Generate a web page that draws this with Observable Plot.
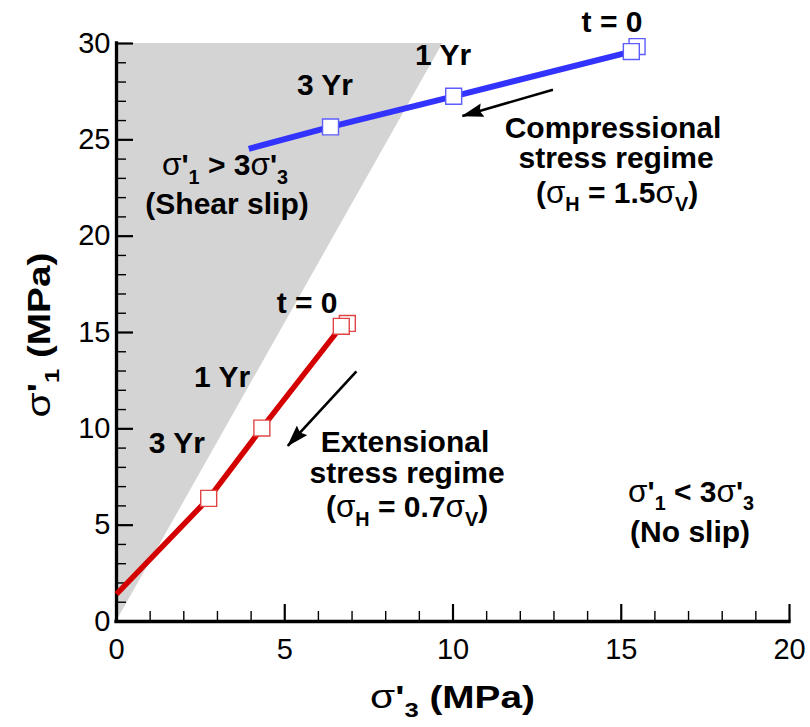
<!DOCTYPE html>
<html>
<head>
<meta charset="utf-8">
<script src="https://cdn.jsdelivr.net/npm/d3@7"></script>
<script src="https://cdn.jsdelivr.net/npm/@observablehq/plot@0.6"></script>
<style>
  body { margin: 0; background: #fff; }
  #chart svg { display: block; }
</style>
</head>
<body>
<div id="chart"></div>
<script>
// ---------- data ----------
const xTicks = [0, 5, 10, 15, 20];
const yTicks = [0, 5, 10, 15, 20, 25, 30];
const xMinorTicks = [1,2,3,4,6,7,8,9,11,12,13,14,16,17,18,19];
const yMinorTicks = [1,2,3,4,6,7,8,9,11,12,13,14,16,17,18,19,21,22,23,24,26,27,28,29];

// shear-slip region boundary (σ'1 = 3σ'3)
const shearX = [0, 9.7];
const shearY = [0, 30];
const shearTop = [30, 30];

// compressional regime (blue)
const compLineX = [3.93, 6.36, 10.02, 15.30];
const compLineY = [24.53, 25.67, 27.26, 29.58];
const compMarkX = [15.47, 15.30, 10.02, 6.36];
const compMarkY = [29.84, 29.58, 27.26, 25.67];

// extensional regime (red)
const extLineX = [0, 2.74, 4.32, 6.68];
const extLineY = [1.42, 6.39, 10.04, 15.32];
const extMarkX = [6.86, 6.68, 4.32, 2.74];
const extMarkY = [15.47, 15.32, 10.04, 6.39];

// arrows
const arrowX1 = [12.97, 7.13];
const arrowY1 = [27.60, 12.98];
const arrowX2 = [10.28, 5.09];
const arrowY2 = [26.24, 9.12];

// annotations ("_" marks a subscript character)
const labelText = ["t = 0", "1 Yr", "3 Yr", "σ'_1 > 3σ'_3", "(Shear slip)",
  "Compressional", "stress regime", "(σ_H = 1.5σ_V)",
  "t = 0", "1 Yr", "3 Yr",
  "Extensional", "stress regime", "(σ_H = 0.7σ_V)",
  "σ'_1 < 3σ'_3", "(No slip)"];
const labelX = [14.74, 9.72, 6.21, 3.24, 3.30, 14.77, 14.86, 14.89, 5.68, 3.15, 1.81, 8.59, 8.65, 8.65, 17.09, 17.06];
const labelY = [30.57, 28.85, 27.30, 23.14, 21.12, 25.06, 23.50, 21.72, 15.98, 12.13, 8.71, 8.76, 7.16, 5.39, 6.20, 4.10];

// ---------- build tables ----------
const shear = shearX.map((x, i) => ({x, y: shearY[i], top: shearTop[i]}));
const compLine = compLineX.map((x, i) => ({x, y: compLineY[i]}));
const compMarks = compMarkX.map((x, i) => ({x, y: compMarkY[i]}));
const extLine = extLineX.map((x, i) => ({x, y: extLineY[i]}));
const extMarks = extMarkX.map((x, i) => ({x, y: extMarkY[i]}));
const arrows = arrowX1.map((x1, i) => ({x1, y1: arrowY1[i], x2: arrowX2[i], y2: arrowY2[i]}));
const labels = labelText.map((t, i) => ({t, x: labelX[i], y: labelY[i]}));

const W = 810, H = 727;
const mL = 116, mR = 21, mT = 43, mB = 106;
const frameW = W - mL - mR, frameH = H - mT - mB;
const FONT = "'Liberation Sans', Arial, Helvetica, sans-serif";

const plot = Plot.plot({
  width: W, height: H,
  marginLeft: mL, marginRight: mR, marginTop: mT, marginBottom: mB,
  style: {fontFamily: FONT, background: "#fff", color: "#000", overflow: "visible"},
  x: {domain: [0, 20]},
  y: {domain: [0, 30]},
  marks: [
    Plot.areaY(shear, {x: "x", y1: "y", y2: "top", fill: "#d4d4d4"}),
    // ticks (inward)
    Plot.tickX(xTicks, {x: d => d, insetTop: frameH - 17, stroke: "#000", strokeWidth: 2.2}),
    Plot.tickX(xMinorTicks, {x: d => d, insetTop: frameH - 10, stroke: "#000", strokeWidth: 1.4}),
    Plot.tickY(yTicks, {y: d => d, insetRight: frameW - 17, stroke: "#000", strokeWidth: 2.2}),
    Plot.tickY(yMinorTicks, {y: d => d, insetRight: frameW - 10, stroke: "#000", strokeWidth: 1.4}),
    // tick labels
    Plot.axisX(xTicks, {tickSize: 0, tickPadding: 17, fontSize: 29, lineAnchor: "top"}),
    Plot.axisY(yTicks, {tickSize: 0, tickPadding: 6, fontSize: 29}),
    // axis lines
    Plot.ruleY([0], {stroke: "#000", strokeWidth: 3.3, strokeLinecap: "square"}),
    Plot.ruleX([0], {stroke: "#000", strokeWidth: 3.3, strokeLinecap: "square"}),
    // series
    Plot.line(extLine, {x: "x", y: "y", stroke: "#d40000", strokeWidth: 5.5, strokeLinecap: "butt"}),
    Plot.line(compLine, {x: "x", y: "y", stroke: "#3333ff", strokeWidth: 6, strokeLinecap: "butt"}),
    Plot.dot(extMarks, {x: "x", y: "y", symbol: "square", r: 9, fill: "#fff", stroke: "#e04545", strokeWidth: 1.4}),
    Plot.dot(compMarks, {x: "x", y: "y", symbol: "square", r: 9, fill: "#fff", stroke: "#5c5cff", strokeWidth: 1.4}),
    // arrows
    Plot.link(arrows, {x1: "x1", y1: "y1", x2: "x2", y2: "y2", stroke: "#000", strokeWidth: 2.6})
  ]
});

document.getElementById("chart").appendChild(plot);

// ---------- post: arrowheads & rich text ----------
const svg = d3.select(plot);
const defs = svg.insert("defs", ":first-child");
defs.append("marker")
  .attr("id", "ahead")
  .attr("viewBox", "0 0 22 14")
  .attr("refX", 21).attr("refY", 7)
  .attr("markerWidth", 22).attr("markerHeight", 14)
  .attr("markerUnits", "userSpaceOnUse")
  .attr("orient", "auto")
  .append("path").attr("d", "M0,0 L22,7 L0,14 L3,7 Z").attr("fill", "#000");
svg.selectAll('g[aria-label="link"] path').attr("marker-end", "url(#ahead)");

const sx = plot.scale("x"), sy = plot.scale("y");

function rich(t, str, fs) {
  const segs = [];
  for (let i = 0; i < str.length; i++) {
    const c = str[i];
    if (c === "_") { segs.push({s: str[++i], type: "sub"}); continue; }
    const type = c === "σ" ? "greek" : "norm";
    const last = segs[segs.length - 1];
    if (last && last.type === type) last.s += c; else segs.push({s: c, type});
  }
  let down = 0;
  for (const sg of segs) {
    const ts = t.append("tspan").text(sg.s);
    const target = sg.type === "sub" ? fs * 0.28 : 0;
    if (target !== down) { ts.attr("dy", target - down); down = target; }
    if (sg.type === "sub") ts.attr("font-size", fs * 0.66);
    if (sg.type === "greek") ts.attr("font-weight", "normal").attr("font-size", fs * 1.05);
  }
}

const ann = svg.append("g")
  .attr("font-family", FONT).attr("font-weight", "bold")
  .attr("font-size", 30).attr("text-anchor", "middle").attr("fill", "#000")
  .style("white-space", "pre");
for (const l of labels) {
  const t = ann.append("text").attr("x", sx.apply(l.x)).attr("y", sy.apply(l.y));
  rich(t, l.t, 30);
}

// axis titles
const xt = svg.append("g")
  .attr("transform", `translate(${sx.apply(10)},${H - mB + 87}) scale(1.25,1)`)
  .attr("font-family", FONT).attr("font-weight", "bold").attr("font-size", 31)
  .attr("text-anchor", "middle").style("white-space", "pre");
rich(xt.append("text"), "σ'_3 (MPa)", 31);

const yt = svg.append("g")
  .attr("transform", `translate(50,${sy.apply(15) + 3}) rotate(-90) scale(1.25,1)`)
  .attr("font-family", FONT).attr("font-weight", "bold").attr("font-size", 31)
  .attr("text-anchor", "middle").style("white-space", "pre");
rich(yt.append("text"), "σ'_1 (MPa)", 31);
</script>
</body>
</html>
